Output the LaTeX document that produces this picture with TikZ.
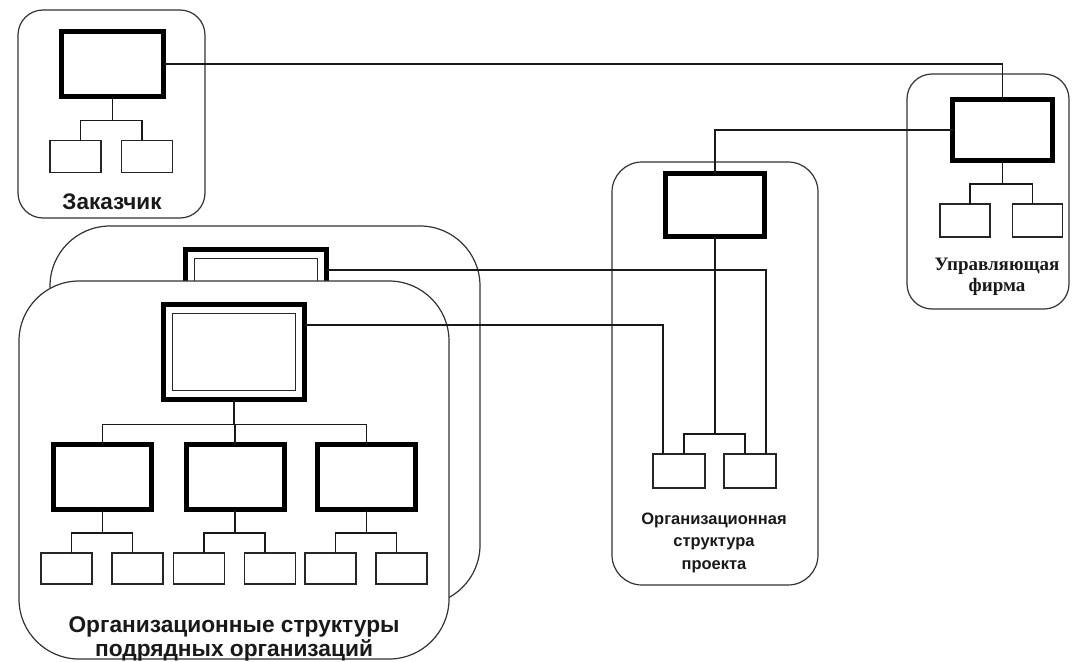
\documentclass[tikz,border=0pt]{standalone}
\usepackage{fontspec}
\setmainfont{Liberation Sans}
\newfontfamily\serifbold{Liberation Serif}[BoldFont={* Bold}]
\begin{document}
\begin{tikzpicture}[x=1pt,y=-1pt]
\tikzstyle{every node}+=[inner sep=0pt, outer sep=0pt]
\tikzstyle{frame}=[draw=black!80, fill=white, line width=1.2pt, rounded corners=25pt]
\tikzstyle{head}=[draw, line width=5pt, fill=white]
\tikzstyle{inbox}=[draw=black!85, line width=1.3pt]
\tikzstyle{leaf}=[draw=black!85, line width=1.3pt, fill=white, minimum width=51pt, minimum height=32pt]
\tikzstyle{link}=[black!90, line width=1.2pt]
\tikzstyle{txt}=[align=center, text=black!90]
\useasboundingbox (0,0) rectangle (1075,661);
% Заказчик
\node[frame, minimum width=187pt, minimum height=208pt] (zak) at (111.5,114) {};
\node[head, minimum width=102pt, minimum height=65pt] (zakhead) at (112.5,64) {};
\node[leaf] (zak1) at (75.5,156.5) {};
\node[leaf] (zak2) at (147,156.5) {};
\node[txt, font=\bfseries\fontsize{22.5}{24}\selectfont] (zaktext) at (112,202) {Заказчик};
% Управляющая фирма
\node[frame, minimum width=162pt, minimum height=235pt] (upr) at (988,191.5) {};
\node[head, minimum width=100pt, minimum height=61pt] (uprhead) at (1002.5,130) {};
\node[leaf, minimum width=50pt, minimum height=33pt] (upr1) at (965,220.5) {};
\node[leaf, minimum width=50pt, minimum height=33pt] (upr2) at (1037.5,220.5) {};
\node[txt, font=\serifbold\bfseries\fontsize{19}{21}\selectfont] (uprtext) at (997,277) {Управляющая\\фирма};
% проект
\node[frame, rounded corners=30pt, minimum width=206pt, minimum height=423pt] (prj) at (715,373.5) {};
\node[head, minimum width=99pt, minimum height=63pt] (prjhead) at (715,205) {};
\node[leaf, minimum width=52pt, minimum height=34pt] (prj1) at (679,471) {};
\node[leaf, minimum width=52pt, minimum height=34pt] (prj2) at (750,471) {};
\node[txt, font=\bfseries\fontsize{16.5}{22.5}\selectfont] (prjtext) at (714,542.5) {Организационная\\структура\\проекта};
% подрядчики
\node[frame, rounded corners=60pt, minimum width=430pt, minimum height=379pt] (subback) at (265,415.5) {};
\node[head, minimum width=141pt, minimum height=95pt] (subbackhead) at (256,297) {};
\node[inbox, minimum width=123pt, minimum height=77pt] (subbackin) at (subbackhead) {};
\node[frame, rounded corners=60pt, minimum width=430pt, minimum height=378pt] (sub) at (234,470) {};
\node[head, minimum width=141pt, minimum height=95pt] (subhead) at (234,352) {};
\node[inbox, minimum width=123pt, minimum height=77pt] (subheadin) at (subhead) {};
\foreach \n/\x in {A/102.5,B/235,C/366.5} {
  \node[head, minimum width=98pt, minimum height=65pt] (sub\n) at (\x,477) {};
  \node[leaf, minimum height=31pt] (sub\n1) at (\x-36,568.5) {};
  \node[leaf, minimum height=31pt] (sub\n2) at (\x+35,568.5) {};
}
\node[txt, font=\bfseries\fontsize{22.7}{23.5}\selectfont] (subtext) at (234,639) {Организационные структуры\\подрядных организаций};
% связи
\foreach \p/\c/\s in {zakhead/zak1/5, zakhead/zak2/-5, uprhead/upr1/5, uprhead/upr2/-5,
    prjhead/prj1/5, prjhead/prj2/-5, subhead/subA/0, subhead/subB/0, subhead/subC/0,
    subA/subA1/5, subA/subA2/-5, subB/subB1/5, subB/subB2/-5, subC/subC1/5, subC/subC2/-5}
  \draw[link] ([xshift=\s pt]\c.north) -- ++(0,20pt) -| (\p.south);
\draw[link] (zakhead.east) -| (uprhead.north);
\draw[link] (uprhead.west) -| (prjhead.north);
\draw[link] ([yshift=27pt]subbackhead.east) -| ([xshift=16pt]prj2.north);
\draw[link] ([yshift=27pt]subhead.east) -| ([xshift=-16pt]prj1.north);
\end{tikzpicture}
\end{document}
